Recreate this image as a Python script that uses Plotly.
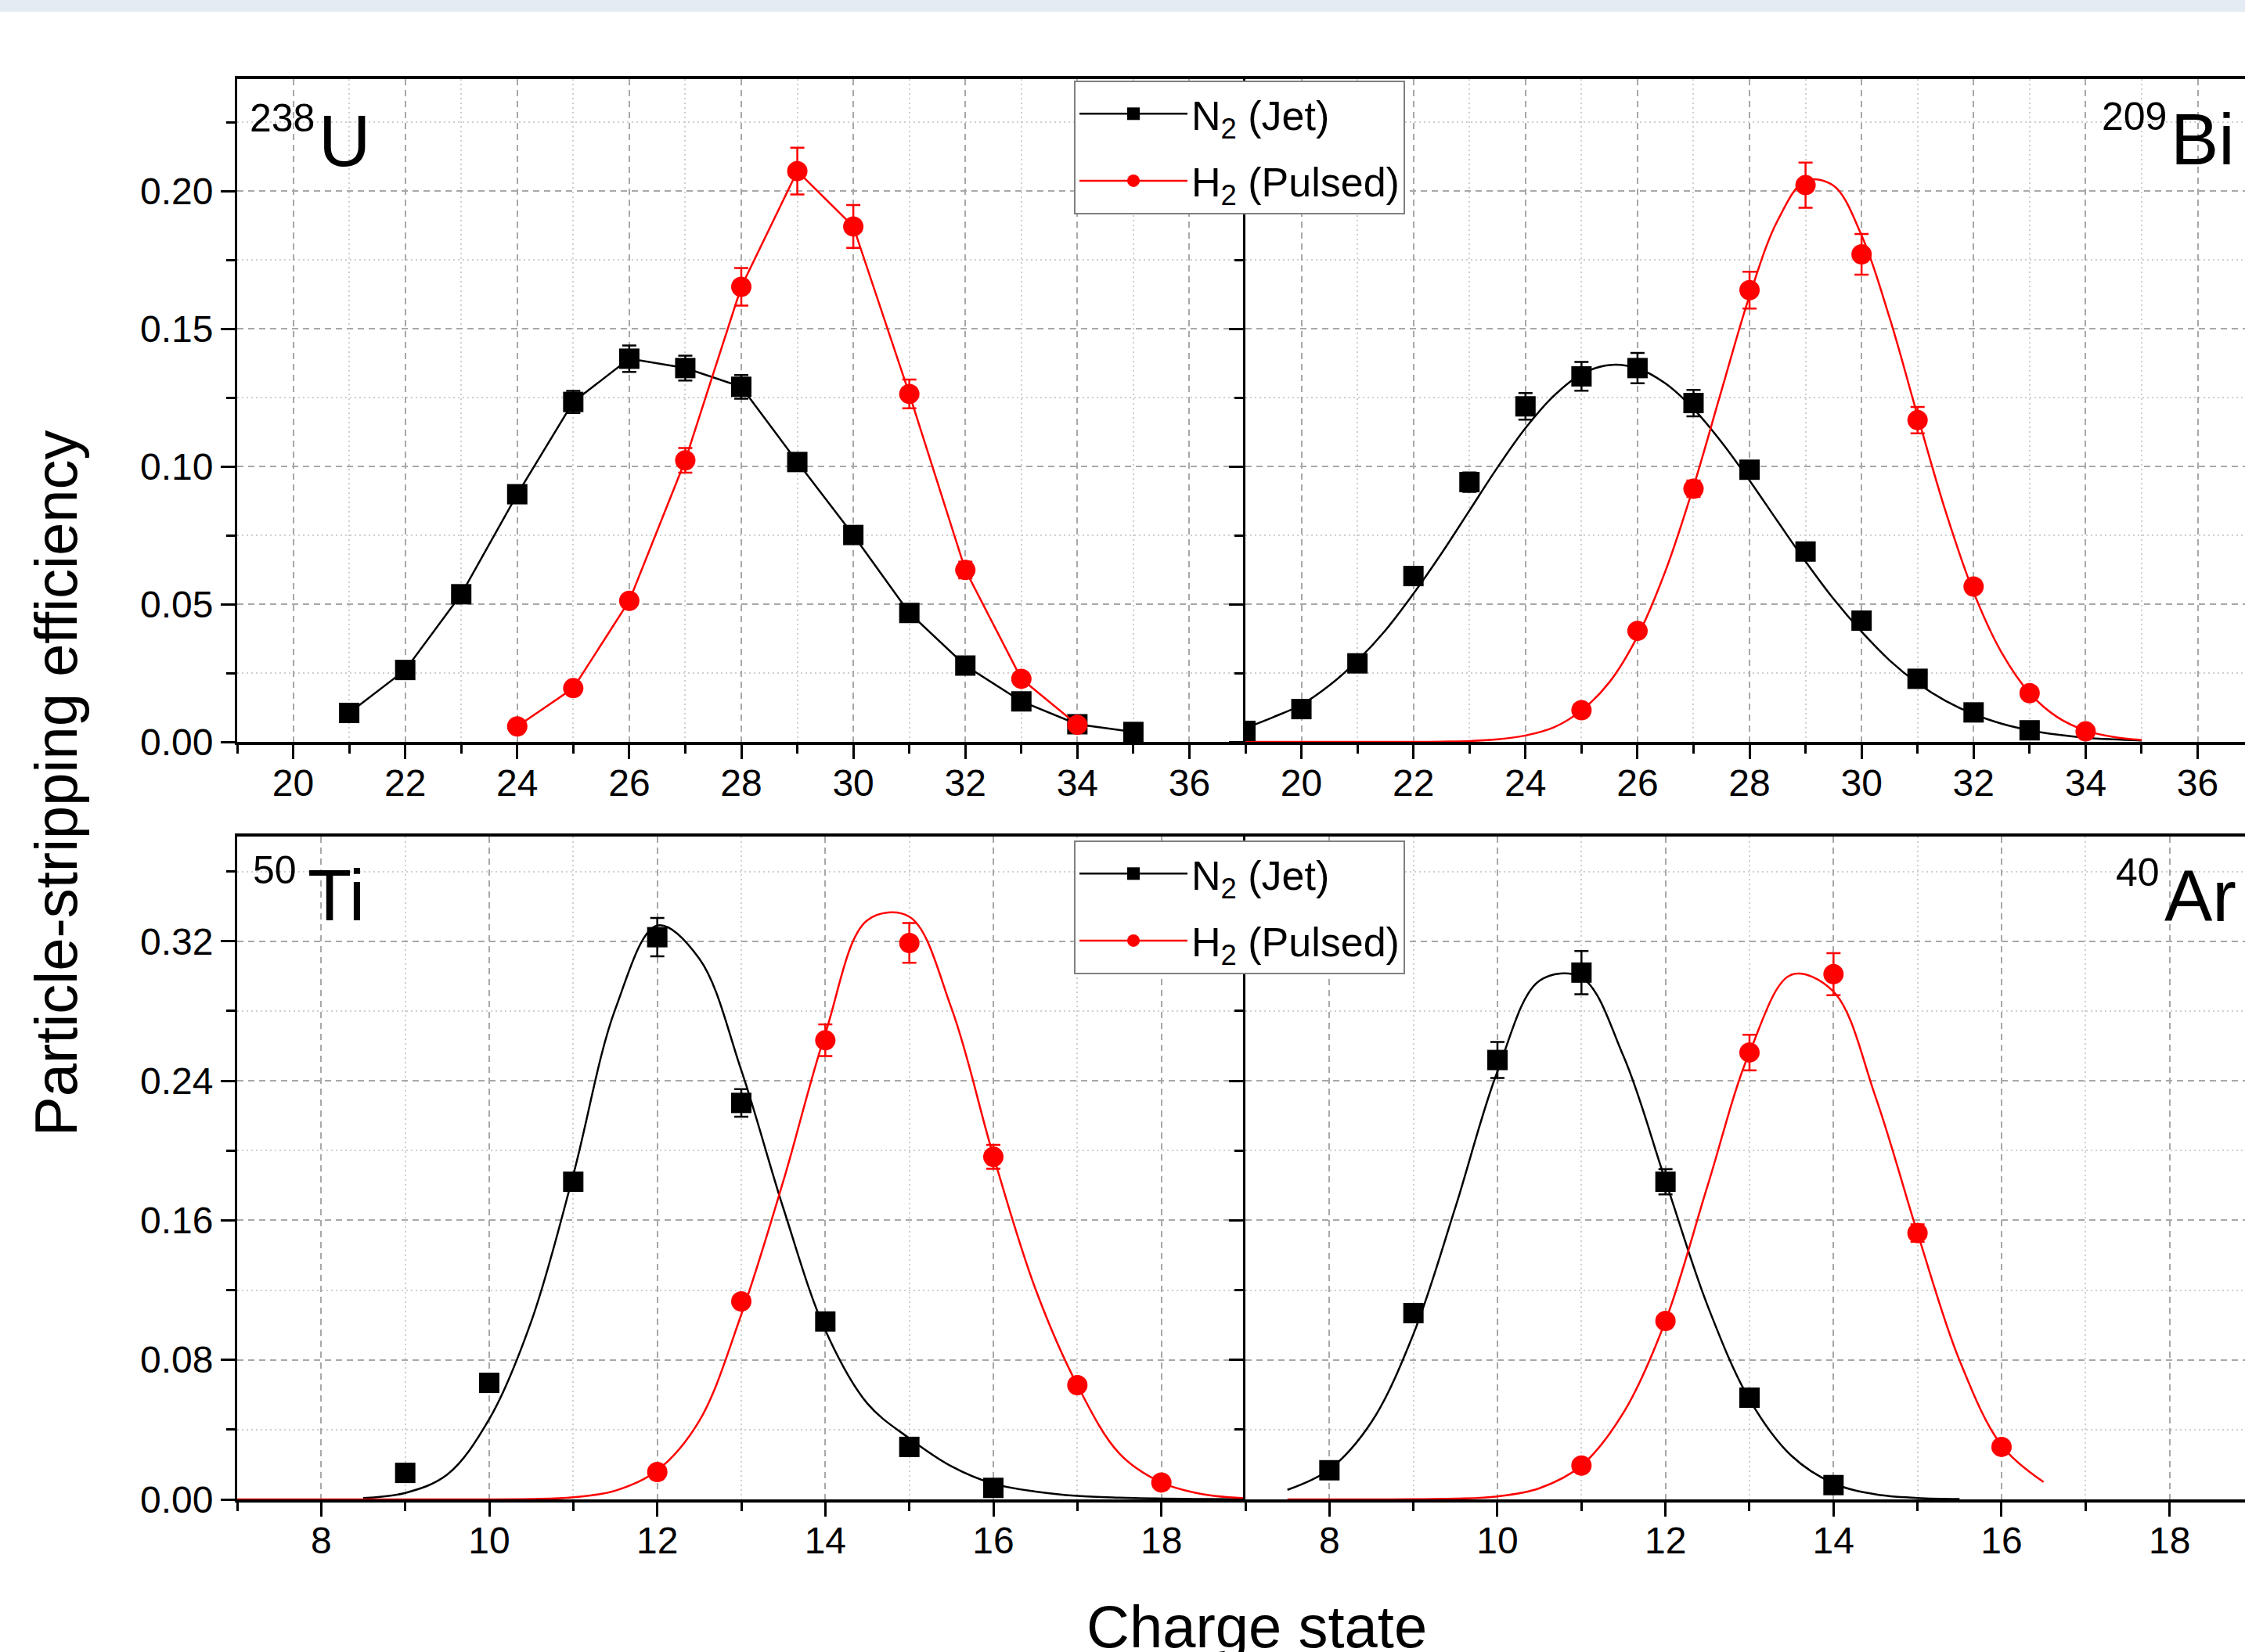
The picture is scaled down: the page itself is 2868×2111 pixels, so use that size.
import plotly.graph_objects as go

# ---------------- data ----------------
# 238U  (top-left)
u_q_n2 = [21, 22, 23, 24, 25, 26, 27, 28, 29, 30, 31, 32, 33, 34, 35]
u_n2 = [0.0105, 0.0261, 0.0536, 0.0899, 0.1234, 0.1391, 0.1357, 0.1289, 0.1016, 0.0751, 0.0468, 0.0277, 0.0147, 0.0064, 0.0036]
u_n2_err = [0.001, 0.0015, 0.002, 0.003, 0.004, 0.0048, 0.0045, 0.0043, 0.003, 0.002, 0.0015, 0.001, 0.001, 0.0005, 0.0003]
u_q_h2 = [24, 25, 26, 27, 28, 29, 30, 31, 32, 33, 34]
u_h2 = [0.0056, 0.0195, 0.0512, 0.1022, 0.1652, 0.2072, 0.1871, 0.1263, 0.0624, 0.0229, 0.0062]
u_h2_err = [0.0005, 0.001, 0.002, 0.0045, 0.0068, 0.0085, 0.0078, 0.0052, 0.003, 0.0015, 0.0005]

# 209Bi (top-right)
bi_q_n2 = [19, 20, 21, 22, 23, 24, 25, 26, 27, 28, 29, 30, 31, 32, 33]
bi_n2 = [0.0040, 0.0119, 0.0285, 0.0602, 0.0943, 0.1218, 0.1327, 0.1357, 0.1230, 0.0988, 0.0691, 0.0440, 0.0229, 0.0107, 0.0042]
bi_n2_err = [0.0003, 0.001, 0.0015, 0.002, 0.0035, 0.0048, 0.0052, 0.0055, 0.0048, 0.003, 0.002, 0.0015, 0.001, 0.0005, 0.0003]
bi_q_h2 = [25, 26, 27, 28, 29, 30, 31, 32, 33, 34]
bi_h2 = [0.0115, 0.0403, 0.0919, 0.1640, 0.2021, 0.1770, 0.1168, 0.0564, 0.0177, 0.0038]
bi_h2_err = [0.001, 0.002, 0.003, 0.0067, 0.0082, 0.0074, 0.0048, 0.002, 0.001, 0.0003]
bi_fit_q = [19, 19.5, 20, 20.5, 21, 21.5, 22, 22.5, 23, 23.5, 24, 24.5, 25, 25.5, 26, 26.5, 27,
            27.5, 28, 28.5, 29, 29.5, 30, 30.5, 31, 31.5, 32, 32.5, 33, 33.5, 34, 34.5, 35]
bi_n2_fit = [0.0050, 0.0090, 0.0135, 0.0205, 0.0295, 0.0405, 0.0538, 0.0684, 0.0840, 0.0996, 0.1139,
             0.1255, 0.1335, 0.1368, 0.1356, 0.1301, 0.1209, 0.1088, 0.0949, 0.0801, 0.0655, 0.0519,
             0.0400, 0.0296, 0.0213, 0.0149, 0.0101, 0.0066, 0.0042, 0.0026, 0.0015, 0.0009, 0.0005]
bi_h2_fit = [0.0, 0.0, 0.0, 0.0, 0.0, 0.0, 0.0, 0.0001, 0.0003, 0.0009, 0.0023, 0.0052, 0.0114,
             0.0217, 0.0383, 0.0621, 0.0927, 0.1276, 0.1619, 0.1892, 0.2037, 0.2019, 0.1839, 0.1540,
             0.1184, 0.0837, 0.0543, 0.0324, 0.0177, 0.0089, 0.0041, 0.0018, 0.0007]

# 50Ti (bottom-left)
ti_q_n2 = [9, 10, 11, 12, 13, 14, 15, 16]
ti_n2 = [0.0152, 0.0668, 0.1821, 0.3223, 0.2273, 0.1020, 0.0301, 0.0066]
ti_n2_err = [0.002, 0.003, 0.004, 0.011, 0.0079, 0.003, 0.002, 0.001]
ti_q_h2 = [12, 13, 14, 15, 16, 17, 18]
ti_h2 = [0.0157, 0.1135, 0.2632, 0.3190, 0.1964, 0.0655, 0.0097]
ti_h2_err = [0.002, 0.003, 0.0091, 0.0114, 0.0068, 0.002, 0.001]
ti_n2_fit_q = [8.5, 9, 9.5, 10, 10.5, 11, 11.5, 12, 12.5, 13, 13.5, 14, 14.5, 15, 15.5, 16, 16.5,
               17, 17.5, 18, 18.5, 19]
ti_n2_fit = [0.0008, 0.0037, 0.0142, 0.046, 0.102, 0.186, 0.281, 0.329, 0.310, 0.246, 0.167, 0.097,
             0.055, 0.035, 0.019, 0.009, 0.0045, 0.002, 0.001, 0.0005, 0.0002, 0.0001]
ti_h2_fit_q = [7, 7.5, 8, 8.5, 9, 9.5, 10, 10.5, 11, 11.5, 12, 12.5, 13, 13.5, 14, 14.5, 15, 15.5,
               16, 16.5, 17, 17.5, 18, 18.5, 19]
ti_h2_fit = [0.0, 0.0, 0.0, 0.0, 0.0, 0.0, 0.0, 0.0002, 0.0012, 0.005, 0.0166, 0.045, 0.106, 0.1825,
             0.267, 0.332, 0.334, 0.2818, 0.197, 0.1208, 0.0655, 0.0263, 0.0097, 0.0029, 0.0007]

# 40Ar (bottom-right)
ar_q_n2 = [8, 9, 10, 11, 12, 13, 14]
ar_n2 = [0.0167, 0.1068, 0.2519, 0.3020, 0.1821, 0.0583, 0.0082]
ar_n2_err = [0.002, 0.003, 0.0103, 0.0124, 0.0072, 0.002, 0.001]
ar_q_h2 = [11, 12, 13, 14, 15, 16]
ar_h2 = [0.0194, 0.1023, 0.2562, 0.3011, 0.1527, 0.0301]
ar_h2_err = [0.002, 0.003, 0.0102, 0.0121, 0.005, 0.002]
ar_n2_fit_q = [7.5, 8, 8.5, 9, 9.5, 10, 10.5, 11, 11.5, 12, 12.5, 13, 13.5, 14, 14.5, 15, 15.5]
ar_n2_fit = [0.0055, 0.0172, 0.0443, 0.0948, 0.1675, 0.2453, 0.2973, 0.2992, 0.2541, 0.1827, 0.1112,
             0.0573, 0.025, 0.0092, 0.0029, 0.0008, 0.0002]
ar_h2_fit_q = [7.5, 8, 8.5, 9, 9.5, 10, 10.5, 11, 11.5, 12, 12.5, 13, 13.5, 14, 14.5, 15, 15.5, 16, 16.5]
ar_h2_fit = [0.0, 0.0, 0.0, 0.0001, 0.0004, 0.0017, 0.0064, 0.0194, 0.0497, 0.1023, 0.1796, 0.2562,
             0.3008, 0.2911, 0.2308, 0.1527, 0.0797, 0.031, 0.010]

n2_name = "N<sub>2</sub> (Jet)"
h2_name = "H<sub>2</sub> (Pulsed)"
isotopes = [("238", "U"), ("209", "Bi"), ("50", "Ti"), ("40", "Ar")]
x_title = "Charge state"
y_title = "Particle-stripping efficiency"

# ---------------- style ----------------
W, H = 2868, 2111
FONT = "Liberation Sans, Arial, sans-serif"
BLACK = "#000000"
RED = "#ff0000"
MS = 26
LW = 2.5


def px_x(p):
    return p / W


def px_y(p):
    return 1 - p / H


fig = go.Figure()


def err(arr, color):
    return dict(type="data", array=arr, visible=True, color=color, thickness=2.5, width=9)


def markers(x, y, e, color, symbol, xa, ya):
    fig.add_trace(go.Scatter(x=x, y=y, mode="markers", xaxis=xa, yaxis=ya, showlegend=False,
                             marker=dict(symbol=symbol, size=MS, color=color, line=dict(width=0)),
                             error_y=err(e, color), hoverinfo="x+y"))


def curve(x, y, color, xa, ya):
    fig.add_trace(go.Scatter(x=x, y=y, mode="lines", xaxis=xa, yaxis=ya, showlegend=False,
                             line=dict(color=color, width=LW, shape="spline", smoothing=1.0),
                             cliponaxis=False, hoverinfo="skip"))


# top-left: connected points (with legend)
fig.add_trace(go.Scatter(x=u_q_n2, y=u_n2, mode="lines+markers", name=n2_name, legend="legend",
                         legendgroup="n2a",
                         line=dict(color=BLACK, width=LW),
                         marker=dict(symbol="square", size=MS, color=BLACK),
                         error_y=err(u_n2_err, BLACK), xaxis="x", yaxis="y"))
fig.add_trace(go.Scatter(x=u_q_h2, y=u_h2, mode="lines+markers", name=h2_name, legend="legend",
                         legendgroup="h2a",
                         line=dict(color=RED, width=LW),
                         marker=dict(symbol="circle", size=MS, color=RED),
                         error_y=err(u_h2_err, RED), xaxis="x", yaxis="y"))

# top-right
curve(bi_fit_q, bi_n2_fit, BLACK, "x2", "y2")
curve(bi_fit_q, bi_h2_fit, RED, "x2", "y2")
markers(bi_q_n2, bi_n2, bi_n2_err, BLACK, "square", "x2", "y2")
markers(bi_q_h2, bi_h2, bi_h2_err, RED, "circle", "x2", "y2")

# bottom-left
curve(ti_n2_fit_q, ti_n2_fit, BLACK, "x3", "y3")
curve(ti_h2_fit_q, ti_h2_fit, RED, "x3", "y3")
markers(ti_q_n2, ti_n2, ti_n2_err, BLACK, "square", "x3", "y3")
markers(ti_q_h2, ti_h2, ti_h2_err, RED, "circle", "x3", "y3")

# bottom-right
curve(ar_n2_fit_q, ar_n2_fit, BLACK, "x4", "y4")
curve(ar_h2_fit_q, ar_h2_fit, RED, "x4", "y4")
markers(ar_q_n2, ar_n2, ar_n2_err, BLACK, "square", "x4", "y4")
markers(ar_q_h2, ar_h2, ar_h2_err, RED, "circle", "x4", "y4")

# legend entries for the lower legend
fig.add_trace(go.Scatter(x=[None], y=[None], mode="lines+markers", name=n2_name, legend="legend2",
                         legendgroup="n2b",
                         line=dict(color=BLACK, width=LW), marker=dict(symbol="square", size=MS, color=BLACK),
                         xaxis="x3", yaxis="y3"))
fig.add_trace(go.Scatter(x=[None], y=[None], mode="lines+markers", name=h2_name, legend="legend2",
                         legendgroup="h2b",
                         line=dict(color=RED, width=LW), marker=dict(symbol="circle", size=MS, color=RED),
                         xaxis="x3", yaxis="y3"))

# ---------------- axes ----------------
XL = [px_x(303), px_x(1591)]
XR = [px_x(1591), 1.0]
YT = [px_y(948), px_y(101)]
YB = [px_y(1916), px_y(1069)]

grid_major = dict(showgrid=True, gridcolor="#a8a8a8", gridwidth=1.5, griddash="8px,6px")
tickfont = dict(family=FONT, size=48, color="black")


def xaxis(domain, rng, dtick, tick0, anchor, mirror=True):
    return dict(domain=domain, range=rng, anchor=anchor, showline=True, linecolor="black", linewidth=3.5,
                mirror=mirror, ticks="outside", ticklen=18, tickwidth=3, tickcolor="black",
                dtick=dtick, tick0=tick0, tickfont=tickfont, zeroline=False, layer="below traces",
                automargin=False, ticklabelstandoff=-10,
                minor=dict(dtick=dtick / 2, tick0=tick0, ticks="outside", ticklen=11, tickwidth=3,
                           tickcolor="black", showgrid=True, gridcolor="#cfcfcf", gridwidth=1.5,
                           griddash="2px,4px"),
                **grid_major)


def yaxis(domain, rng, dtick, anchor, labels):
    return dict(domain=domain, range=rng, anchor=anchor, showline=True, linecolor="black", linewidth=3,
                mirror=False, ticks="outside", ticklen=18, tickwidth=3, tickcolor="black",
                dtick=dtick, tick0=0, tickformat=".2f", showticklabels=labels, tickfont=tickfont,
                zeroline=False, layer="below traces", ticklabelstandoff=0, automargin=False,
                minor=dict(dtick=dtick / 2, tick0=0, ticks="outside", ticklen=11, tickwidth=3,
                           tickcolor="black", showgrid=True, gridcolor="#cfcfcf", gridwidth=1.5,
                           griddash="2px,4px"),
                **grid_major)


top_rng = [0, 847 / 3520]
bot_rng = [0, 847 / 2229]
right_cut_top = 19 + 1277 / 71.56
right_cut_bot = 7 + 1277 / 107.33

fig.update_layout(
    xaxis=xaxis(XL, [19, 37], 2, 20, "y"),
    yaxis=yaxis(YT, top_rng, 0.05, "x", True),
    xaxis2=xaxis(XR, [19, right_cut_top], 2, 20, "y2"),
    yaxis2=yaxis(YT, top_rng, 0.05, "x2", False),
    xaxis3=xaxis(XL, [7, 19], 2, 8, "y3"),
    yaxis3=yaxis(YB, bot_rng, 0.08, "x3", True),
    xaxis4=xaxis(XR, [7, right_cut_bot], 2, 8, "y4"),
    yaxis4=yaxis(YB, bot_rng, 0.08, "x4", False),
)

legend_style = dict(xanchor="left", yanchor="top", bgcolor="white", bordercolor="#808080", borderwidth=2,
                    font=dict(family=FONT, size=52, color="black"), itemwidth=138, tracegroupgap=15,
                    traceorder="grouped")
fig.update_layout(
    legend=dict(x=px_x(1372), y=px_y(103), **legend_style),
    legend2=dict(x=px_x(1372), y=px_y(1074), **legend_style),
)

# ---------------- annotations ----------------
ann = []
iso_pos = [
    ((317, 151), (405, 180)),
    ((2683, 149), (2771, 178)),
    ((321, 1112), (391, 1144)),
    ((2701, 1115), (2763, 1145)),
]
for (mass, el), ((mx, my), (ex, ey)) in zip(isotopes, iso_pos):
    ann.append(dict(text=mass, x=px_x(mx), y=px_y(my), xref="paper", yref="paper", xanchor="left",
                    yanchor="middle", showarrow=False, font=dict(family=FONT, size=50, color="black")))
    ann.append(dict(text=el, x=px_x(ex), y=px_y(ey), xref="paper", yref="paper", xanchor="left",
                    yanchor="middle", showarrow=False, font=dict(family=FONT, size=92, color="black")))
ann.append(dict(text=x_title, x=px_x(1605), y=px_y(2078), xref="paper", yref="paper", xanchor="center",
                yanchor="middle", showarrow=False, font=dict(family=FONT, size=76, color="black")))
ann.append(dict(text=y_title, x=px_x(72), y=px_y(1001), xref="paper", yref="paper", xanchor="center",
                yanchor="middle", textangle=-90, showarrow=False,
                font=dict(family=FONT, size=76, color="black")))

fig.update_layout(
    width=W, height=H, margin=dict(l=0, r=0, t=0, b=0, autoexpand=False), autosize=False,
    paper_bgcolor="white", plot_bgcolor="white",
    font=dict(family=FONT, color="black"),
    annotations=ann,
    shapes=[dict(type="rect", xref="paper", yref="paper", x0=0, x1=1, y0=px_y(15), y1=1,
                 fillcolor="#e4ebf3", line=dict(width=0), layer="below")],
)

fig.write_html("out.html", config={"displayModeBar": False},
               post_script="document.body.style.margin='0px';")
